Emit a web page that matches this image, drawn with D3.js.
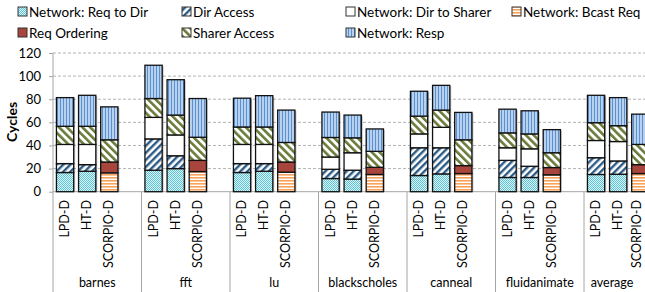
<!DOCTYPE html>
<html>
<head>
<meta charset="utf-8">
<script src="https://cdn.jsdelivr.net/npm/d3@7"></script>
<style>
  body { margin: 0; background: #fff; }
  svg { display: block; font-family: Lato, "Liberation Sans", sans-serif; }
</style>
</head>
<body>
<svg width="645" height="292"></svg>
<script>
// stacked latency breakdown, 7 benchmarks x 3 protocols

const groups  = ["barnes", "fft", "lu", "blackscholes", "canneal", "fluidanimate", "average"];
const configs = ["LPD-D", "HT-D", "SCORPIO-D"];
const seriesNames = ["Network: Req to Dir", "Dir Access", "Network: Dir to Sharer",
  "Network: Bcast Req", "Req Ordering", "Sharer Access", "Network: Resp"];
const yTicks = [0, 20, 40, 60, 80, 100, 120];

// one value per bar, groups in order, LPD-D / HT-D / SCORPIO-D inside
const reqToDir     = [16.6, 17.7, 0,  18.6, 20.0, 0,  16.6, 17.7, 0,  11.4, 10.9, 0,  14.0, 15.4, 0,  12.3, 12.3, 0,  14.9, 15.1, 0];
const dirAccess    = [7.7, 5.7, 0,    27.1, 11.1, 0,  7.7, 6.6, 0,    8.0, 7.7, 0,    24.0, 22.6, 0,  14.8, 9.7, 0,   14.5, 11.5, 0];
const dirToSharer  = [16.6, 17.5, 0,  18.6, 18.0, 0,  16.6, 16.6, 0,  10.6, 15.1, 0,  12.0, 17.7, 0,  10.9, 15.1, 0,  14.9, 16.8, 0];
const bcastReq     = [0, 0, 16.3,     0, 0, 17.4,     0, 0, 16.9,     0, 0, 14.9,     0, 0, 15.7,     0, 0, 14.6,     0, 0, 15.7];
const reqOrdering  = [0, 0, 9.4,      0, 0, 9.7,      0, 0, 8.8,      0, 0, 6.2,      0, 0, 6.9,      0, 0, 6.3,      0, 0, 7.7];
const sharerAccess = [15.7, 15.7, 19.2, 16.3, 17.2, 20.0, 15.1, 15.1, 16.9, 16.9, 12.9, 13.8, 15.4, 14.9, 22.3, 12.9, 12.9, 12.8, 15.4, 13.7, 17.5];
const resp         = [24.8, 26.8, 28.5, 28.8, 30.6, 33.5, 24.9, 27.1, 28.0, 22.0, 19.7, 19.4, 21.5, 21.4, 23.7, 20.5, 20.0, 20.0, 23.7, 24.3, 26.2];

const seriesValues = [reqToDir, dirAccess, dirToSharer, bcastReq, reqOrdering, sharerAccess, resp];

const svg = d3.select("svg");
const width = +svg.attr("width");
const height = +svg.attr("height");
const margin = { top: 53, left: 53, bottom: 100 };
const slotW = 22.125;             // 3 bars + 1 empty slot per group
const groupW = slotW * 4;

// rows for d3.stack
const rows = [];
groups.forEach((g, gi) => {
  configs.forEach((c, ci) => {
    const i = gi * 3 + ci;
    const row = { group: g, config: c, slot: g + "|" + c };
    seriesNames.forEach((s, si) => row[s] = seriesValues[si][i]);
    rows.push(row);
  });
});

const slots = [];
groups.forEach(g => { configs.forEach(c => slots.push(g + "|" + c)); slots.push(g + "|"); });

const x = d3.scaleBand()
  .domain(slots)
  .range([margin.left + 1, margin.left + 1 + slotW * slots.length])
  .paddingInner(0.22)
  .paddingOuter(0.11);

const y = d3.scaleLinear()
  .domain([0, 120])
  .range([height - margin.bottom - 0.3, margin.top]);

// patterns
const defs = svg.append("defs");
function stripes(id, color, bg, size, w, angle) {
  const p = defs.append("pattern").attr("id", id)
    .attr("patternUnits", "userSpaceOnUse")
    .attr("width", size).attr("height", size)
    .attr("patternTransform", `rotate(${angle})`);
  p.append("rect").attr("width", size).attr("height", size).attr("fill", bg);
  p.append("rect").attr("width", w).attr("height", size).attr("fill", color);
}
// req to dir: cyan checker
const chk = defs.append("pattern").attr("id", "p0")
  .attr("patternUnits", "userSpaceOnUse").attr("width", 2).attr("height", 2);
chk.append("rect").attr("width", 2).attr("height", 2).attr("fill", "#dff4f8");
chk.append("rect").attr("width", 1).attr("height", 1).attr("fill", "#5cc3d4");
chk.append("rect").attr("x", 1).attr("y", 1).attr("width", 1).attr("height", 1).attr("fill", "#5cc3d4");
stripes("p1", "#2c5b86", "#ffffff", 5, 2.4, 45);
stripes("p3", "#f7a35c", "#ffffff", 3, 1.6, 90);
stripes("p5", "#6a7b39", "#ffffff", 5.5, 2.6, -45);
stripes("p6", "#5a8fd0", "#b7d1ef", 3, 1, 0);

const fills = ["url(#p0)", "url(#p1)", "#ffffff", "url(#p3)", "#a8453d", "url(#p5)", "url(#p6)"];

// gridlines
svg.append("g")
  .selectAll("line")
  .data(yTicks.slice(1))
  .join("line")
    .attr("x1", margin.left).attr("x2", width)
    .attr("y1", d => y(d)).attr("y2", d => y(d))
    .attr("stroke", "#b3b3b3")
    .attr("stroke-dasharray", "3,2");

// y axis
const yAxis = svg.append("g")
  .attr("transform", `translate(${margin.left},0)`)
  .call(d3.axisLeft(y).tickValues(yTicks).tickSize(4).tickPadding(8));
yAxis.select(".domain").remove();
yAxis.selectAll(".tick line").attr("stroke", "#a6a6a6");
yAxis.selectAll(".tick text")
  .attr("font-size", "13px")
  .attr("font-family", "Lato, sans-serif")
  .attr("fill", "#000");

// axis lines and group separators
svg.append("line")
  .attr("x1", margin.left).attr("x2", width)
  .attr("y1", y(0)).attr("y2", y(0))
  .attr("stroke", "#a6a6a6");
svg.append("g")
  .selectAll("line")
  .data(d3.range(groups.length + 1))
  .join("line")
    .attr("x1", i => margin.left + i * groupW).attr("x2", i => margin.left + i * groupW)
    .attr("y1", i => i === 0 ? y(120) : y(0)).attr("y2", height)
    .attr("stroke", "#a6a6a6");

svg.append("text")
  .attr("transform", `translate(17,122) rotate(-90)`)
  .attr("text-anchor", "middle")
  .attr("font-size", "14px")
  .attr("font-weight", "bold")
  .text("Cycles");

// bars
const stack = d3.stack().keys(seriesNames)(rows);

// soft shadow behind each bar
svg.append("g")
  .selectAll("rect")
  .data(rows)
  .join("rect")
    .attr("x", d => x(d.slot) + 1.5)
    .attr("y", d => y(d3.sum(seriesNames, s => d[s])) + 1)
    .attr("width", x.bandwidth())
    .attr("height", d => y(0) - y(d3.sum(seriesNames, s => d[s])) - 1)
    .attr("fill", "#000")
    .attr("opacity", 0.22);

svg.append("g")
  .selectAll("g")
  .data(stack)
  .join("g")
    .attr("fill", (d, i) => fills[i])
  .selectAll("rect")
  .data(d => d.filter(p => p[1] - p[0] > 0))
  .join("rect")
    .attr("x", d => x(d.data.slot))
    .attr("y", d => y(d[1]))
    .attr("width", x.bandwidth())
    .attr("height", d => y(d[0]) - y(d[1]))
    .attr("stroke", "#111")
    .attr("stroke-width", 1.3);

// category labels
svg.append("g")
  .selectAll("text")
  .data(rows)
  .join("text")
    .attr("transform", d => `translate(${Math.min(x(d.slot) + x.bandwidth() / 2 + 4, 641)},200) rotate(-90)`)
    .attr("text-anchor", "end")
    .attr("font-size", "12.5px")
    .text(d => d.config);

// group labels; the last one is pulled in so it stays on the page
svg.append("g")
  .selectAll("text")
  .data(groups)
  .join("text")
    .attr("x", (d, i) => Math.min(margin.left + i * groupW + groupW / 2, 612))
    .attr("y", 287)
    .attr("text-anchor", "middle")
    .attr("font-size", "12.5px")
    .text(d => d);

// legend
const legendPos = [[29, 12], [193, 12], [357, 12], [523, 12], [29, 33], [193, 33], [357, 33]];
const legend = svg.append("g");
seriesNames.forEach((name, i) => {
  const row = legend.append("g")
    .attr("transform", `translate(${legendPos[i][0]},${legendPos[i][1]})`);
  row.append("rect")
    .attr("x", -11).attr("y", -5)
    .attr("width", 9).attr("height", 9)
    .attr("fill", fills[i])
    .attr("stroke", "#333")
    .attr("stroke-width", 1);
  row.append("text")
    .attr("y", 5)
    .attr("font-size", "13.5px")
    .text(name);
});
</script>
</body>
</html>
